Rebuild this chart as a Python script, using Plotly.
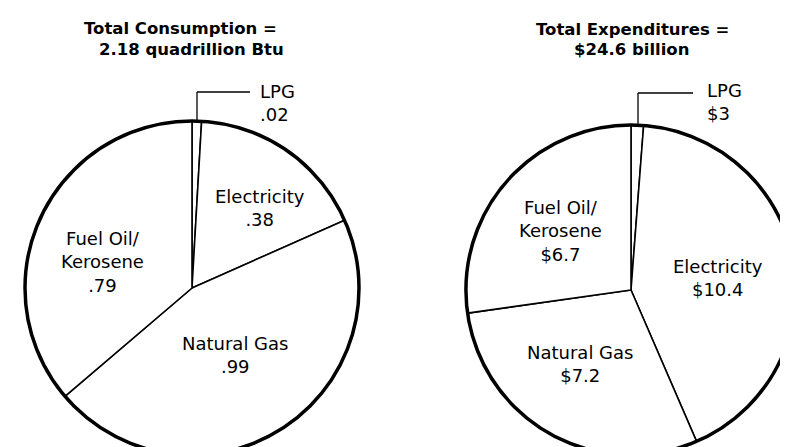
import plotly.graph_objects as go

W, H = 788, 447

# ── Data ─────────────────────────────────────────────────────────────
fuels = ["LPG", "Electricity", "Natural Gas", "Fuel Oil/Kerosene"]
consumption = [0.02, 0.38, 0.99, 0.79]          # quadrillion Btu
expenditures = [0.3, 10.4, 7.2, 6.7]            # billion dollars
consumption_text = [".02", ".38", ".99", ".79"]
expenditure_text = ["$3", "$10.4", "$7.2", "$6.7"]
label_names = ["LPG", "Electricity", "Natural Gas", "Fuel Oil/<br>Kerosene"]

FONT = "DejaVu Sans, Liberation Sans, Arial, sans-serif"


def px_domain(cx, cy, r):
    # square domain (paper coords) for a pie centred at pixel (cx, cy)
    clip = lambda v: min(max(v, 0.0), 1.0)
    return dict(x=[clip((cx - r) / W), clip((cx + r) / W)],
                y=[clip(1 - (cy + r) / H), clip(1 - (cy - r) / H)])


left_dom = px_domain(184, 280, 167)
right_dom = px_domain(623, 282, 165)

fig = go.Figure()

for dom, vals in [(left_dom, consumption), (right_dom, expenditures)]:
    # slices with thin radial lines
    fig.add_trace(go.Pie(
        labels=fuels, values=vals, domain=dom,
        sort=False, direction="clockwise", rotation=0,
        textinfo="none", hoverinfo="label+value",
        marker=dict(colors=["#ffffff"] * 4, line=dict(color="#000000", width=1.6)),
        showlegend=False,
    ))
    # heavier outer rim
    fig.add_trace(go.Pie(
        labels=["total"], values=[sum(vals)], domain=dom,
        textinfo="none", hoverinfo="skip",
        marker=dict(colors=["rgba(0,0,0,0)"], line=dict(color="#000000", width=3.5)),
        showlegend=False,
    ))

annotations = []


def txt(x, y, s, size=18, bold=False, align="center", xanchor="center"):
    annotations.append(dict(
        x=x / W, y=1 - y / H, xref="paper", yref="paper",
        text=f"<b>{s}</b>" if bold else s, showarrow=False,
        xanchor=xanchor, yanchor="middle", align=align,
        font=dict(family=FONT, size=size, color="#000000"),
    ))


# titles (one annotation per line to keep the tight line spacing)
txt(172, 20, "Total Consumption =", size=16.5, bold=True)
txt(183, 42, "2.18 quadrillion Btu", size=16.5, bold=True)
txt(624, 21, "Total Expenditures =", size=16.5, bold=True)
txt(623, 42, "$24.6 billion", size=16.5, bold=True)

# left pie labels
txt(250, 95, f"{label_names[0]}<br>{consumption_text[0]}", align="left", xanchor="left")
txt(252, 200, f"{label_names[1]}<br>{consumption_text[1]}")
txt(227, 347, f"{label_names[2]}<br>{consumption_text[2]}")
txt(94, 254, f"{label_names[3]}<br>{consumption_text[3]}")

# right pie labels
txt(697, 94, f"{label_names[0]}<br>{expenditure_text[0]}", align="left", xanchor="left")
txt(710, 270, f"{label_names[1]}<br>{expenditure_text[1]}")
txt(572, 356, f"{label_names[2]}<br>{expenditure_text[2]}")
txt(552, 223, f"{label_names[3]}<br>{expenditure_text[3]}")

# LPG leader lines
shapes = []
for x0, x1, ytop, ybot in [(189, 242, 84, 115), (630, 685, 85, 119)]:
    shapes.append(dict(type="line", xref="paper", yref="paper",
                       x0=x0 / W, x1=x0 / W, y0=1 - ytop / H, y1=1 - ybot / H,
                       line=dict(color="#000000", width=1.3)))
    shapes.append(dict(type="line", xref="paper", yref="paper",
                       x0=x0 / W, x1=x1 / W, y0=1 - ytop / H, y1=1 - ytop / H,
                       line=dict(color="#000000", width=1.3)))

fig.update_layout(
    width=W, height=H,
    margin=dict(l=0, r=0, t=0, b=0),
    paper_bgcolor="#ffffff", plot_bgcolor="#ffffff",
    annotations=annotations, shapes=shapes,
)

fig.write_html("out.html")
